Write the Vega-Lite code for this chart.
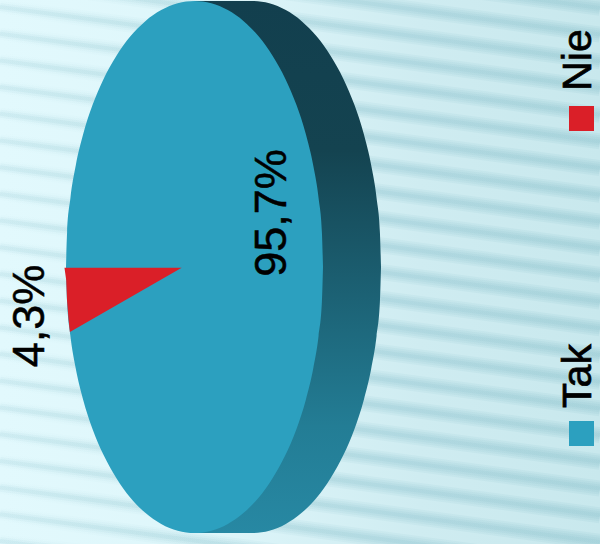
{
  "$schema": "https://vega.github.io/schema/vega-lite/v6.json",
  "width": 600,
  "height": 544,
  "padding": 0,
  "autosize": {"type": "none"},
  "background": "#d6f0f5",
  "config": {"view": {"stroke": null}},
  "datasets": {
    "page": [{"px": 0, "top": 0, "bottom": 544}, {"px": 600, "top": 0, "bottom": 544}],
    "stripes": [
      {"yStart": -100, "yEnd": -19}, {"yStart": -73.1, "yEnd": 7.9}, {"yStart": -46.4, "yEnd": 34.6},
      {"yStart": -19.7, "yEnd": 61.3}, {"yStart": 7, "yEnd": 88}, {"yStart": 33.7, "yEnd": 114.7},
      {"yStart": 60.4, "yEnd": 141.4}, {"yStart": 87.1, "yEnd": 168.1}, {"yStart": 113.8, "yEnd": 194.8},
      {"yStart": 140.5, "yEnd": 221.5}, {"yStart": 167.2, "yEnd": 248.2}, {"yStart": 193.9, "yEnd": 274.9},
      {"yStart": 220.6, "yEnd": 301.6}, {"yStart": 247.3, "yEnd": 328.3}, {"yStart": 274, "yEnd": 355},
      {"yStart": 300.7, "yEnd": 381.7}, {"yStart": 327.4, "yEnd": 408.4}, {"yStart": 354.1, "yEnd": 435.1},
      {"yStart": 380.8, "yEnd": 461.8}, {"yStart": 407.5, "yEnd": 488.5}, {"yStart": 434.2, "yEnd": 515.2},
      {"yStart": 460.9, "yEnd": 541.9}, {"yStart": 487.6, "yEnd": 568.6}, {"yStart": 514.3, "yEnd": 595.3},
      {"yStart": 541, "yEnd": 622}
    ],
    "rim": [
      {"px": 195, "top": 1, "bottom": 533}, {"px": 252.5, "top": 1, "bottom": 533},
      {"px": 269.3, "top": 3.3, "bottom": 530.7}, {"px": 285.8, "top": 10.1, "bottom": 523.9},
      {"px": 301.7, "top": 21.2, "bottom": 512.8}, {"px": 316.8, "top": 36.6, "bottom": 497.6},
      {"px": 330.7, "top": 56, "bottom": 478}, {"px": 343.4, "top": 78.9, "bottom": 455.1},
      {"px": 354.5, "top": 105.1, "bottom": 428.9}, {"px": 363.8, "top": 134, "bottom": 400},
      {"px": 371.2, "top": 165.2, "bottom": 368.8}, {"px": 376.6, "top": 198.2, "bottom": 335.8},
      {"px": 379.9, "top": 232.3, "bottom": 301.7}, {"px": 381, "top": 267, "bottom": 267}
    ],
    "slices": [
      {"category": "Tak", "px": 66, "top": 267, "bottom": 267}, {"category": "Tak", "px": 67.1, "top": 232.3, "bottom": 301.7},
      {"category": "Tak", "px": 70.4, "top": 198.2, "bottom": 335.8}, {"category": "Tak", "px": 75.8, "top": 165.2, "bottom": 368.8},
      {"category": "Tak", "px": 83.2, "top": 134, "bottom": 400}, {"category": "Tak", "px": 92.5, "top": 105.1, "bottom": 428.9},
      {"category": "Tak", "px": 103.6, "top": 78.9, "bottom": 455.1}, {"category": "Tak", "px": 116.3, "top": 56, "bottom": 478},
      {"category": "Tak", "px": 130.2, "top": 36.6, "bottom": 497.6}, {"category": "Tak", "px": 145.3, "top": 21.2, "bottom": 512.8},
      {"category": "Tak", "px": 161.2, "top": 10.1, "bottom": 523.9}, {"category": "Tak", "px": 177.7, "top": 3.3, "bottom": 530.7},
      {"category": "Tak", "px": 194.5, "top": 1, "bottom": 533}, {"category": "Tak", "px": 211.3, "top": 3.3, "bottom": 530.7},
      {"category": "Tak", "px": 227.8, "top": 10.1, "bottom": 523.9}, {"category": "Tak", "px": 243.7, "top": 21.2, "bottom": 512.8},
      {"category": "Tak", "px": 258.8, "top": 36.6, "bottom": 497.6}, {"category": "Tak", "px": 272.7, "top": 56, "bottom": 478},
      {"category": "Tak", "px": 285.4, "top": 78.9, "bottom": 455.1}, {"category": "Tak", "px": 296.5, "top": 105.1, "bottom": 428.9},
      {"category": "Tak", "px": 305.8, "top": 134, "bottom": 400}, {"category": "Tak", "px": 313.2, "top": 165.2, "bottom": 368.8},
      {"category": "Tak", "px": 318.6, "top": 198.2, "bottom": 335.8}, {"category": "Tak", "px": 321.9, "top": 232.3, "bottom": 301.7},
      {"category": "Tak", "px": 323, "top": 267, "bottom": 267},
      {"category": "Nie", "px": 64.5, "top": 267.7, "bottom": 268}, {"category": "Nie", "px": 66.2, "top": 267.7, "bottom": 280},
      {"category": "Nie", "px": 67, "top": 267.7, "bottom": 300}, {"category": "Nie", "px": 68.6, "top": 267.7, "bottom": 320},
      {"category": "Nie", "px": 69.9, "top": 267.7, "bottom": 332}, {"category": "Nie", "px": 181.7, "top": 267.7, "bottom": 267.7}
    ],
    "shares": [
      {"category": "Tak", "share": 95.7, "label": "95,7%", "labelX": 272, "labelY": 213, "keyX": 581.5, "keyY": 433.5, "nameX": 579, "nameY": 376},
      {"category": "Nie", "share": 4.3, "label": "4,3%", "labelX": 30, "labelY": 316, "keyX": 581.5, "keyY": 118.5, "nameX": 579, "nameY": 60}
    ]
  },
  "layer": [
    {
      "data": {"name": "page"},
      "mark": {"type": "area", "clip": true, "fill": {"x1": 0, "y1": 0, "x2": 1, "y2": 0, "gradient": "linear", "stops": [
        {"offset": 0, "color": "#e2f9fd"}, {"offset": 0.35, "color": "#def6fa"}, {"offset": 0.7, "color": "#cfecf1"}, {"offset": 1, "color": "#c8e8ed"}
      ]}},
      "encoding": {
        "x": {"field": "px", "type": "quantitative", "scale": {"domain": [0, 600]}, "axis": null},
        "y": {"field": "top", "type": "quantitative", "scale": {"domain": [544, 0]}, "axis": null},
        "y2": {"field": "bottom"}
      }
    },
    {
      "data": {"name": "stripes"},
      "mark": {"type": "rule", "clip": true, "strokeWidth": 16, "stroke": {"x1": 0, "y1": 0, "x2": 1, "y2": 0, "gradient": "linear", "stops": [
        {"offset": 0, "color": "rgba(150,200,210,0.0)"}, {"offset": 0.4, "color": "rgba(150,200,210,0.1)"}, {"offset": 1, "color": "rgba(150,200,210,0.18)"}
      ]}},
      "encoding": {
        "x": {"datum": 0, "type": "quantitative", "scale": {"domain": [0, 600]}, "axis": null},
        "x2": {"datum": 600},
        "y": {"field": "yStart", "type": "quantitative", "scale": {"domain": [544, 0]}, "axis": null},
        "y2": {"field": "yEnd"}
      }
    },
    {
      "data": {"name": "stripes"},
      "mark": {"type": "rule", "clip": true, "strokeWidth": 12, "stroke": {"x1": 0, "y1": 0, "x2": 1, "y2": 0, "gradient": "linear", "stops": [
        {"offset": 0, "color": "rgba(150,200,210,0.03)"}, {"offset": 0.4, "color": "rgba(150,200,210,0.12)"}, {"offset": 1, "color": "rgba(150,200,210,0.2)"}
      ]}},
      "encoding": {
        "x": {"datum": 0, "type": "quantitative", "scale": {"domain": [0, 600]}, "axis": null},
        "x2": {"datum": 600},
        "y": {"field": "yStart", "type": "quantitative", "scale": {"domain": [544, 0]}, "axis": null},
        "y2": {"field": "yEnd"}
      }
    },
    {
      "data": {"name": "stripes"},
      "mark": {"type": "rule", "clip": true, "strokeWidth": 8, "stroke": {"x1": 0, "y1": 0, "x2": 1, "y2": 0, "gradient": "linear", "stops": [
        {"offset": 0, "color": "rgba(150,200,210,0.1)"}, {"offset": 0.4, "color": "rgba(150,200,210,0.15)"}, {"offset": 1, "color": "rgba(150,200,210,0.22)"}
      ]}},
      "encoding": {
        "x": {"datum": 0, "type": "quantitative", "scale": {"domain": [0, 600]}, "axis": null},
        "x2": {"datum": 600},
        "y": {"field": "yStart", "type": "quantitative", "scale": {"domain": [544, 0]}, "axis": null},
        "y2": {"field": "yEnd"}
      }
    },
    {
      "data": {"name": "stripes"},
      "mark": {"type": "rule", "clip": true, "strokeWidth": 4, "stroke": {"x1": 0, "y1": 0, "x2": 1, "y2": 0, "gradient": "linear", "stops": [
        {"offset": 0, "color": "rgba(150,200,210,0.15)"}, {"offset": 0.4, "color": "rgba(150,200,210,0.2)"}, {"offset": 1, "color": "rgba(150,200,210,0.25)"}
      ]}},
      "encoding": {
        "x": {"datum": 0, "type": "quantitative", "scale": {"domain": [0, 600]}, "axis": null},
        "x2": {"datum": 600},
        "y": {"field": "yStart", "type": "quantitative", "scale": {"domain": [544, 0]}, "axis": null},
        "y2": {"field": "yEnd"}
      }
    },
    {
      "data": {"name": "rim"},
      "mark": {"type": "area", "interpolate": "monotone", "fill": {"x1": 0, "y1": 0, "x2": 0, "y2": 1, "gradient": "linear", "stops": [
        {"offset": 0, "color": "#123f4e"}, {"offset": 0.28, "color": "#144350"}, {"offset": 0.8, "color": "#237d95"}, {"offset": 1, "color": "#2788a3"}
      ]}},
      "encoding": {
        "x": {"field": "px", "type": "quantitative", "scale": {"domain": [0, 600]}, "axis": null},
        "y": {"field": "top", "type": "quantitative", "scale": {"domain": [544, 0]}, "axis": null},
        "y2": {"field": "bottom"}
      }
    },
    {
      "data": {"name": "slices"},
      "transform": [{"filter": "datum.category === 'Tak'"}],
      "mark": {"type": "area", "interpolate": "monotone"},
      "encoding": {
        "x": {"field": "px", "type": "quantitative", "scale": {"domain": [0, 600]}, "axis": null},
        "y": {"field": "top", "type": "quantitative", "scale": {"domain": [544, 0]}, "axis": null},
        "y2": {"field": "bottom"},
        "color": {"field": "category", "type": "nominal", "legend": null, "scale": {"domain": ["Tak", "Nie"], "range": ["#2ca0bf", "#da1f28"]}}
      }
    },
    {
      "data": {"name": "slices"},
      "transform": [{"filter": "datum.category === 'Nie'"}],
      "mark": {"type": "area", "interpolate": "linear"},
      "encoding": {
        "x": {"field": "px", "type": "quantitative", "scale": {"domain": [0, 600]}, "axis": null},
        "y": {"field": "top", "type": "quantitative", "scale": {"domain": [544, 0]}, "axis": null},
        "y2": {"field": "bottom"},
        "color": {"field": "category", "type": "nominal", "legend": null, "scale": {"domain": ["Tak", "Nie"], "range": ["#2ca0bf", "#da1f28"]}}
      }
    },
    {
      "data": {"name": "shares"},
      "mark": {"type": "point", "shape": "square", "filled": true, "opacity": 1, "size": 625},
      "encoding": {
        "x": {"field": "keyX", "type": "quantitative", "scale": {"domain": [0, 600]}, "axis": null},
        "y": {"field": "keyY", "type": "quantitative", "scale": {"domain": [544, 0]}, "axis": null},
        "color": {"field": "category", "type": "nominal", "legend": null, "scale": {"domain": ["Tak", "Nie"], "range": ["#2ca0bf", "#da1f28"]}}
      }
    },
    {
      "data": {"name": "shares"},
      "mark": {"type": "text", "angle": 270, "font": "Liberation Sans", "fontSize": 45, "align": "center", "baseline": "middle", "color": "#000000", "stroke": "#000000", "strokeWidth": 0.5},
      "encoding": {
        "x": {"field": "labelX", "type": "quantitative", "scale": {"domain": [0, 600]}, "axis": null},
        "y": {"field": "labelY", "type": "quantitative", "scale": {"domain": [544, 0]}, "axis": null},
        "text": {"field": "label"}
      }
    },
    {
      "data": {"name": "shares"},
      "mark": {"type": "text", "angle": 270, "font": "Liberation Sans", "fontSize": 41, "align": "center", "baseline": "middle", "color": "#000000", "stroke": "#000000", "strokeWidth": 0.7},
      "encoding": {
        "x": {"field": "nameX", "type": "quantitative", "scale": {"domain": [0, 600]}, "axis": null},
        "y": {"field": "nameY", "type": "quantitative", "scale": {"domain": [544, 0]}, "axis": null},
        "text": {"field": "category"}
      }
    }
  ]
}
